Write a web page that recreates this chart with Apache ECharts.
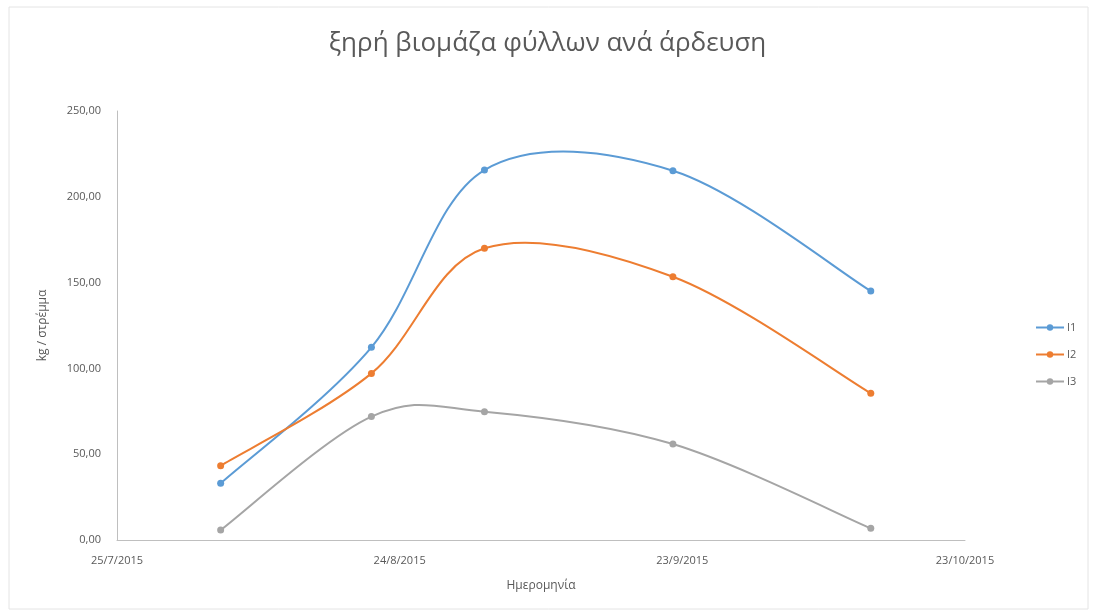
<!DOCTYPE html>
<html>
<head>
<meta charset="utf-8">
<script src="https://cdn.jsdelivr.net/npm/echarts@6/dist/echarts.min.js"></script>
<style>
html,body{margin:0;padding:0;background:#fff;}
#c{width:1095px;height:613px;}
</style>
</head>
<body>
<div id="c"></div>
<script>
var dates = ['2015-08-05', '2015-08-21', '2015-09-02', '2015-09-22', '2015-10-13'];
var seriesNames = ['I1', 'I2', 'I3'];
var i1 = [33.0, 112.3, 215.6, 215.2, 145.1];
var i2 = [43.3, 97.1, 170.0, 153.4, 85.5];
var i3 = [5.8, 71.9, 74.8, 55.9, 6.8];
var axisStart = '2015-07-25';
var axisEnd = '2015-10-23';
var tickDays = 30;
var yTicks = [0, 50, 100, 150, 200, 250];

var DAY = 86400000;
function toUTC(s){ var p = s.split('-'); return Date.UTC(+p[0], +p[1]-1, +p[2]); }
var base = toUTC(axisStart);
function dayOf(s){ return Math.round((toUTC(s) - base) / DAY); }
function fmtDay(d){ var dt = new Date(base + d*DAY); return dt.getUTCDate() + '/' + (dt.getUTCMonth()+1) + '/' + dt.getUTCFullYear(); }

var colors = ['#5B9BD5', '#ED7D31', '#A5A5A5'];
var vals = [i1, i2, i3];
var txt = '#595959';

function pts(k){ return dates.map(function(d, i){ return [dayOf(d), vals[k][i]]; }); }

// Excel-like smoothed curve: Catmull-Rom segments between data points, positioned through the axes
function curveRenderer(k){
  var data = pts(k);
  var n = data.length;
  return function(params, api){
    var i = params.dataIndex;
    if (i >= n - 1) return null;
    var c = function(j){ j = Math.max(0, Math.min(n-1, j)); return api.coord(data[j]); };
    var p0 = c(i-1), p1 = c(i), p2 = c(i+1), p3 = c(i+2);
    return {
      type: 'bezierCurve',
      shape: {
        x1: p1[0], y1: p1[1], x2: p2[0], y2: p2[1],
        cpx1: p1[0] + (p2[0]-p0[0])/6, cpy1: p1[1] + (p2[1]-p0[1])/6,
        cpx2: p2[0] - (p3[0]-p1[0])/6, cpy2: p2[1] - (p3[1]-p1[1])/6
      },
      style: { stroke: colors[k], lineWidth: 2, fill: null, lineCap: 'round' },
      silent: true
    };
  };
}

var series = [];
seriesNames.forEach(function(n, k){
  series.push({
    name: n + ' curve', type: 'custom', renderItem: curveRenderer(k),
    data: pts(k), z: 2, silent: true
  });
});
seriesNames.forEach(function(n, k){
  series.push({
    name: n, type: 'line',
    symbol: 'circle', symbolSize: 7,
    lineStyle: { width: 2, color: colors[k], opacity: 0 },
    itemStyle: { color: colors[k] },
    data: pts(k), z: 3
  });
});

var chart = echarts.init(document.getElementById('c'));
chart.setOption({
  animation: false,
  backgroundColor: '#fff',
  title: {
    text: 'ξηρή βιομάζα φύλλων ανά άρδευση',
    left: 'center', top: 26,
    textStyle: { fontFamily: 'Open Sans', fontSize: 26, fontWeight: 'normal', color: txt }
  },
  legend: {
    orient: 'vertical', left: 1030, top: 317, itemGap: 16,
    itemWidth: 28, itemHeight: 8,
    data: seriesNames,
    lineStyle: { opacity: 1, width: 2 },
    textStyle: { fontFamily: 'Open Sans', fontSize: 11, color: txt, padding: [0,0,0,-2] }
  },
  graphic: [{
    type: 'rect', shape: { x: 9, y: 7, width: 1079, height: 602 },
    style: { fill: 'none', stroke: '#e4e4e4', lineWidth: 1 }, silent: true
  }],
  grid: { left: 117, right: 130, top: 111, bottom: 73 },
  xAxis: {
    type: 'value',
    min: 0, max: dayOf(axisEnd), interval: tickDays,
    name: 'Ημερομηνία', nameLocation: 'middle', nameGap: 40,
    nameTextStyle: { fontFamily: 'Open Sans', fontSize: 12, color: txt },
    axisLine: { show: true, lineStyle: { color: '#bfbfbf', width: 1 } },
    axisTick: { show: false },
    splitLine: { show: false },
    axisLabel: { formatter: fmtDay, fontFamily: 'Open Sans', fontSize: 11, color: txt, margin: 15 }
  },
  yAxis: {
    type: 'value',
    min: yTicks[0], max: yTicks[yTicks.length-1], interval: yTicks[1]-yTicks[0],
    name: 'kg / στρέμμα', nameLocation: 'middle', nameGap: 68,
    nameTextStyle: { fontFamily: 'Open Sans', fontSize: 12, color: txt },
    axisLine: { show: true, lineStyle: { color: '#bfbfbf', width: 1 } },
    axisTick: { show: false },
    splitLine: { show: false },
    axisLabel: { formatter: function(v){ return v.toFixed(2).replace('.', ','); }, fontFamily: 'Open Sans', fontSize: 11, color: txt, margin: 16 }
  },
  series: series
});
</script>
</body>
</html>
